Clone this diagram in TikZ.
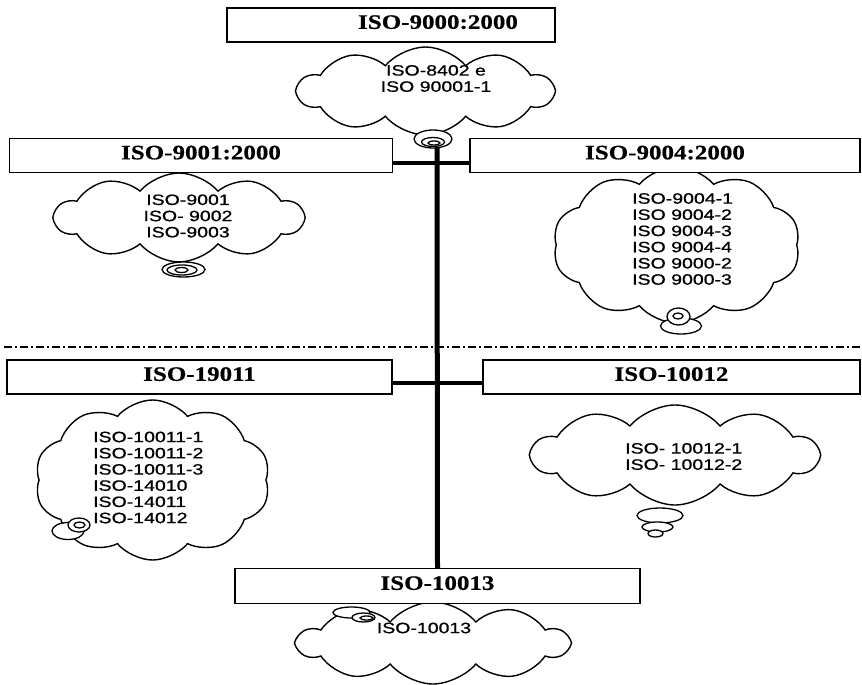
\documentclass[tikz,border=0pt]{standalone}
\usepackage{fontspec}
\usetikzlibrary{shapes.symbols}
\newfontfamily\boxfont[FakeStretch=1.22,FakeBold=0.6]{Liberation Serif}
\newfontfamily\cloudfont[FakeStretch=1.3,FakeBold=0.8]{Liberation Sans}
\begin{document}
\begin{tikzpicture}[x=1pt,y=-1pt,
  isobox/.style={draw, line width=1.5pt, fill=white, rectangle, inner sep=0pt,
    font=\boxfont\bfseries\fontsize{20.5}{24}\selectfont, text depth=6pt},
  thought/.style={cloud, draw, line width=1.4pt, fill=white, cloud puffs=10,
    cloud puff arc=100, cloud ignores aspect, inner sep=0pt},
  ctext/.style={font=\cloudfont\fontsize{15}{16.2}\selectfont, inner sep=0pt},
  spine/.style={line width=5pt},
  hline/.style={line width=4pt},
  bub/.style={draw, line width=1.3pt, fill=white},
  dashdot/.style={line width=1.4pt, dash pattern=on 8pt off 3pt on 2pt off 3pt}
]
\useasboundingbox (0,0) rectangle (862,685);

% clouds
\node[thought, minimum width=255pt, minimum height=88pt] (c9000) at (425.5,91) {};
\node[thought, minimum width=248pt, minimum height=89pt] (c9001) at (179,217.5) {};
\node[thought, minimum width=247pt, minimum height=156pt] (c9004) at (676.5,245) {};
\node[thought, minimum width=235pt, minimum height=160pt] (c19011) at (152.5,480) {};
\node[thought, minimum width=286pt, minimum height=100pt] (c10012) at (675,455) {};
\node[thought, minimum width=270pt, minimum height=82pt] (c10013) at (433,643) {};

% thought bubbles
\draw[bub] (433,139) ellipse [x radius=19pt, y radius=9pt];
\draw[bub] (433,142) ellipse [x radius=11.5pt, y radius=4.5pt];
\draw[bub] (434,143) ellipse [x radius=6pt, y radius=2pt];

\draw[bub] (183.5,269.5) ellipse [x radius=21.5pt, y radius=7.5pt];
\draw[bub] (182,270) ellipse [x radius=15pt, y radius=5pt];
\draw[bub] (181.5,270) ellipse [x radius=6.5pt, y radius=2.5pt];

\draw[bub] (681,326) ellipse [x radius=20.5pt, y radius=8pt];
\draw[bub] (678.5,316.5) ellipse [x radius=11.5pt, y radius=8.5pt];
\draw[bub] (678,316) ellipse [x radius=5pt, y radius=3pt];

\draw[bub] (68,531) ellipse [x radius=16pt, y radius=8.5pt];
\draw[bub] (79,525) ellipse [x radius=11pt, y radius=7pt];
\draw[bub] (79.5,525) ellipse [x radius=5.5pt, y radius=3pt];

\draw[bub] (660,515.5) ellipse [x radius=23pt, y radius=7.5pt];
\draw[bub] (657.5,527) ellipse [x radius=15.5pt, y radius=5pt];
\draw[bub] (655.5,533.5) ellipse [x radius=7.5pt, y radius=3.5pt];

\draw[bub] (351.5,612.5) ellipse [x radius=18.5pt, y radius=5.5pt];
\draw[bub] (363.5,617.5) ellipse [x radius=11.5pt, y radius=4.5pt];
\draw[bub] (366.5,618) ellipse [x radius=6.5pt, y radius=2pt];

% cloud texts
\node[ctext, align=center] (t9000) at (436,78.5) {ISO-8402 e\\ISO 90001-1};
\node[ctext, align=center] (t9001) at (188,216) {ISO-9001\\ISO- 9002\\ISO-9003};
\node[ctext, align=left, anchor=west] (t9004) at (632,239)
  {ISO-9004-1\\ISO 9004-2\\ISO 9004-3\\ISO 9004-4\\ISO 9000-2\\ISO 9000-3};
\node[ctext, align=left, anchor=west] (t19011) at (93,477.5)
  {ISO-10011-1\\ISO-10011-2\\ISO-10011-3\\ISO-14010\\ISO-14011\\ISO-14012};
\node[ctext, align=left, anchor=west] (t10012) at (625,456.5) {ISO- 10012-1\\ISO- 10012-2};
\node[ctext] (t10013) at (424,628) {ISO-10013};

% boxes
\node[isobox, minimum width=328pt, minimum height=34pt] (b9000) at (391,25) {\hspace*{94pt}ISO-9000:2000};
\node[isobox, minimum width=383pt, minimum height=34pt] (b9001) at (201,155.5) {ISO-9001:2000};
\node[isobox, minimum width=390pt, minimum height=34pt] (b9004) at (665,155.5) {ISO-9004:2000};
\node[isobox, minimum width=385pt, minimum height=34pt] (b19011) at (199.5,377) {ISO-19011};
\node[isobox, minimum width=377pt, minimum height=34pt] (b10012) at (671.5,377) {ISO-10012};
\node[isobox, minimum width=405pt, minimum height=35pt] (b10013) at (437.5,586) {ISO-10013};

% connectors
\coordinate (top) at (437,148);
\draw[spine] (top) -- (b10013.north);
\draw[hline] ([yshift=-7.5pt]b9001.east) -- ([yshift=-7.5pt]b9004.west);
\draw[hline] ([yshift=-5.5pt]b19011.east) -- ([yshift=-5.5pt]b10012.west);

\coordinate (dl) at (4,347);
\coordinate (dr) at (862,347);
\draw[dashdot] (dl) -- (dr);
\end{tikzpicture}
\end{document}
